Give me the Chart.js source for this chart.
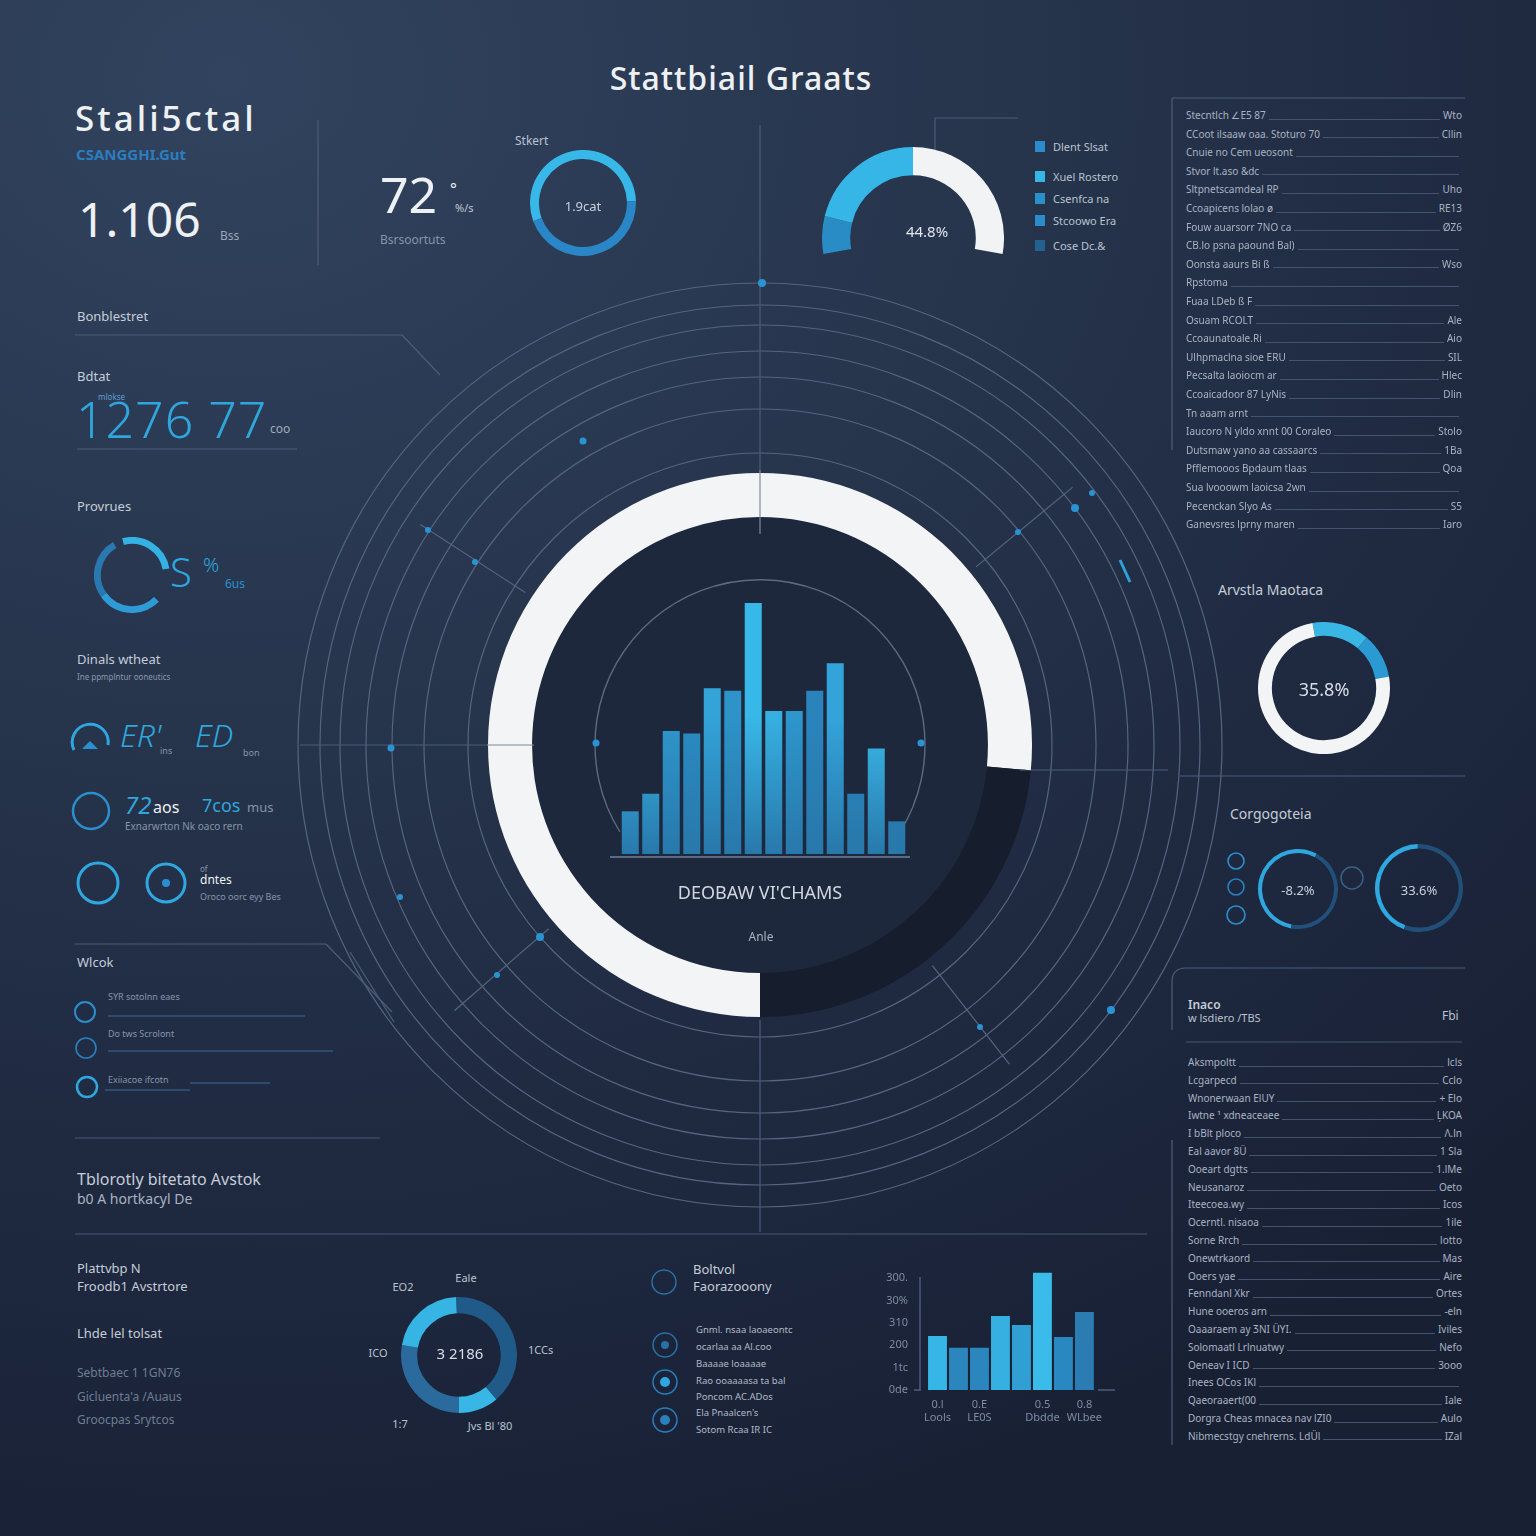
<!DOCTYPE html>
<html><head><meta charset="utf-8">
<script src="https://cdn.jsdelivr.net/npm/chart.js@4.4.1/dist/chart.umd.min.js"></script>
<style>
html,body{margin:0;padding:0;}
body{width:1536px;height:1536px;position:relative;overflow:hidden;font-family:"Noto Sans","Open Sans",sans-serif;
background:radial-gradient(ellipse 120% 100% at 15% 5%, #32435f 0%, #28374f 35%, #1f2a41 70%, #182034 100%);}
.t{position:absolute;white-space:nowrap;line-height:1;}
canvas{position:absolute;}
svg.layer{position:absolute;left:0;top:0;}
.row{position:absolute;display:flex;align-items:center;font-size:10px;color:#a9b3c3;white-space:nowrap;line-height:1;}
.row .ld{flex:1;height:0;border-bottom:1px solid #44546f;margin:0 3px;transform:translateY(4px);}
</style></head>
<body>
<script>
// ---------------- DATA ----------------
const mainRingLabels = ['Complete', 'Remaining'];
const mainRingValues = [76.5, 23.5];

const barCategories = ['B1','B2','B3','B4','B5','B6','B7','B8','B9','B10','B11','B12','B13','B14'];
const barValues = [17, 24, 49, 48, 66, 65, 100, 57, 57, 65, 76, 24, 42, 13];

const gaugeLabels = ['Low', 'Mid', 'Rest'];
const gaugeValues = [12, 38, 50];

const topRingValues = [55, 45];
const analysisRingValues = [14, 11, 75];
const compareLeftValues = [55, 45];
const compareRightValues = [44, 56];
const progressRingValues = [95, 55, 100, 95, 15];
const bottomRingValues = [143, 40, 100, 77];

const bottomBarLabels = [['0.l', 'Lools'], '', ['0.E', 'LE0S'], '', '', ['0.5', 'Dbdde'], '', ['0.8', 'WLbee']];
const bottomBarValues = [145, 113, 113, 198, 174, 314, 142, 209];
const bottomTickLabels = ['0de', '1tc', '200', '310', '30%', '300.'];

const topListLabels = ['Stecntlch \u2220E5 87','CCoot ilsaaw oaa. Stoturo 70','Cnuie no Cem ueosont','Stvor lt.aso &dc','Sltpnetscamdeal RP','Ccoapicens lolao \u00f8','Fouw auarsorr 7NO ca','CB.lo psna paound Bal)','Oonsta aaurs Bi \u00df','Rpstoma','Fuaa LDeb \u00df F','Osuam RCOLT','Ccoaunatoale.Ri','Ulhpmaclna sioe ERU','Pecsalta laoiocm ar','Ccoaicadoor 87 LyNis','Tn aaam arnt','Iaucoro N yldo xnnt 00 Coraleo','Dutsmaw yano aa cassaarcs','Pfflemooos Bpdaum tlaas','Sua lvooowm laoicsa 2wn','Pecenckan Slyo As','Ganevsres lprny maren'];
const topListValues = ['Wto','Cllin','','','Uho','RE13','\u00d8Z6','','Wso','','','Ale','Aio','SIL','Hlec','Dlin','','Stolo','1Ba','Qoa','','S5','Iaro'];
const botListLabels = ['Aksmpoltt','Lcgarpecd','Wnonerwaan ElUY','Iwtne \u00b9 xdneaceaee','I bBlt ploco','Eal aavor 8\u00dc','Ooeart dgtts','Neusanaroz','Iteecoea.wy','Ocerntl. nisaoa','Sorne Rrch','Onewtrkaord','Ooers yae','Fenndanl Xkr','Hune ooeros arn','Oaaaraem ay \u01b7NI \u00dcYI.','Solomaatl Lrlnuatwy','Oeneav I ICD','Inees OCos IKl','Qaeoraaert(00','Dorgra Cheas mnacea nav lZI0','Nibmecstgy cnehrerns. Ld\u00dcl'];
const botListValues = ['lcls','Cclo','+ Elo','\u013bKOA','\u039b.ln','1 Sla','1.lMe','Oeto','Icos','1ile','lotto','Mas','Aire','Ortes','-eln','Iviles','Nefo','3ooo','','Iale','Aulo','IZal'];

// ---------------- BACKGROUND DECOR ----------------
let s = '';
const L = (x1,y1,x2,y2,c='#4d5d79',w=1.2)=>{ s += `<line x1="${x1}" y1="${y1}" x2="${x2}" y2="${y2}" stroke="${c}" stroke-width="${w}"/>`; };
const C = (cx,cy,r,st,w,fill='none')=>{ s += `<circle cx="${cx}" cy="${cy}" r="${r}" stroke="${st}" stroke-width="${w}" fill="${fill}"/>`; };
const CX = 760, CY = 745;
[292, 336, 368, 394, 420, 440, 462].forEach((r,i)=>C(CX,CY,r,'#55657f',1.2));
C(CX,CY,228,'none',0,'#1d283c');
s += `<path d="M620,832 A165,165 0 1 1 900,832" stroke="#5b6b84" stroke-width="1.4" fill="none"/>`;
[[-147],[139],[-39.5],[52]].forEach(([a])=>{const r=a*Math.PI/180; L(CX+280*Math.cos(r),CY+280*Math.sin(r),CX+405*Math.cos(r),CY+405*Math.sin(r),'#55657f',1.2);});
L(760,125,760,470); L(760,1020,760,1232);
L(300,745,490,745); L(1024,770,1168,770);
L(318,120,318,265);
L(75,335,402,335); L(402,335,440,375);
L(77,449,297,449,'#4f5f7b',1);
L(75,944,326,944); L(326,944,392,1012); L(350,952,394,1022);
L(75,1138,380,1138,'#475772',1);
L(75,1234,1147,1234,'#475772',1);
L(935,118,1018,118); L(935,118,935,150);
L(1172,98,1465,98,'#4d5d79',1); L(1172,98,1172,450,'#4d5d79',1.2);
L(1180,776,1465,776,'#4d5d79',1);
s += `<path d="M1172,1030 L1172,982 Q1172,968 1186,968 L1465,968" stroke="#4d5d79" stroke-width="1.2" fill="none"/>`;
L(1186,1042,1462,1042,'#44546f',1);
L(1172,1140,1172,1445,'#4d5d79',1.2);
L(610,857,910,857,'#5b6b84',2);
L(920,1277,920,1391,'#4d5d79',1.5); L(914,1390,920,1390,'#4d5d79',1.5); L(1098,1390,1115,1390,'#4d5d79',1.5);
// dots
[[583,441,3.5],[428,530,3],[475,562,3],[391,748,3.5],[400,897,3],[540,937,4],[497,975,3],[1075,508,4],[1092,493,3],[1111,1010,4],[980,1027,3],[1018,532,3],[762,283,4],[596,743,3.5],[921,743,3.5]].forEach(d=>C(d[0],d[1],d[2],'none',0,'#2a93d4'));
L(1120,560,1130,582,'#2f9fdc',3);
// left icons
s += `<path d="M74,750 A18,18 0 1 1 108,745" stroke="#2fa6e0" stroke-width="3" fill="none"/>`;
s += `<path d="M82,749 L90,741 L98,749 Z" fill="#2a8fd0"/>`;
C(91,811,18,'#2a8fcc',2.5);
C(98,883,20,'#2fa8e0',3); C(166,883,19,'#2fa8e0',3);
C(166,883,4,'none',0,'#2a8fd0');
C(85,1012,10,'#2a8fcc',2); C(86,1048,10,'#2a7fbf',1.6); C(87,1087,10,'#2fa8e0',2.5);
L(108,1016,305,1016,'#3f6a94',1.2); L(108,1051,333,1051,'#3f6a94',1.2); L(190,1083,270,1083,'#3f6a94',1.2); L(105,1090,190,1090,'#3f6a94',1.2);
// right small icons
C(1236,861,8,'#2a8fcc',1.6); C(1236,887,8,'#2a7fbf',1.6); C(1236,915,9,'#2a8fcc',1.6);
C(1352,878,11,'#3b5f86',1.5);
// bottom icons
C(664,1282,12,'#2a6fa8',1.5); C(665,1345,12,'#2a6fa8',1.5); C(665,1382,12,'#2a7fbf',1.5); C(665,1420,12,'#2a7fbf',1.5);
C(665,1382,5,'none',0,'#2fa6e0'); C(665,1420,5,'none',0,'#2a7fbf'); C(665,1345,4,'none',0,'#2a6fa8');
// legend squares
[['#2a8ccc',147],['#35b6e6',177],['#2a90cc',199],['#2a8ccc',221],['#21628f',246]].forEach(([c,y])=>{ s += `<rect x="1035" y="${y-6}" width="10" height="11" fill="${c}"/>`; });

const bg = document.createElementNS('http://www.w3.org/2000/svg','svg');
bg.setAttribute('class','layer'); bg.setAttribute('width','1536'); bg.setAttribute('height','1536');
bg.innerHTML = s; document.body.appendChild(bg);

// ---------------- HELPERS ----------------
function mkCanvas(x,y,w,h){const c=document.createElement('canvas');c.width=w;c.height=h;c.style.left=x+'px';c.style.top=y+'px';c.style.width=w+'px';c.style.height=h+'px';document.body.appendChild(c);return c;}
const base = {responsive:false, animation:false, devicePixelRatio:1, events:[], plugins:{legend:{display:false}, tooltip:{enabled:false}}};
function donut(cx,cy,r,cut,data,colors,rotation,circ,hOverride){
  const h = hOverride || 2*r;
  const c = mkCanvas(cx-r, cy-r, 2*r, h);
  return new Chart(c,{type:'doughnut',data:{labels:data.map((_,i)=>'s'+i),datasets:[{data:data,backgroundColor:colors,borderWidth:0,hoverOffset:0}]},
    options:Object.assign({},base,{cutout:cut+'%',rotation:rotation||0,circumference:circ||360,layout:{padding:0}})});
}
function T(x,y,txt,size,color,extra){const d=document.createElement('div');d.className='t';d.textContent=txt;d.style.left=x+'px';d.style.top=(y-size*0.55)+'px';d.style.fontSize=size+'px';d.style.color=color;if(extra)Object.assign(d.style,extra);document.body.appendChild(d);return d;}
const TC=(x,y,txt,size,color,extra)=>T(x,y,txt,size,color,Object.assign({transform:'translateX(-50%)'},extra||{}));

// ---------------- CHARTS ----------------
// big ring
new Chart(mkCanvas(488,473,544,544),{type:'doughnut',data:{labels:mainRingLabels,datasets:[{data:mainRingValues,backgroundColor:['#f2f4f5','#161d2d'],borderWidth:0}]},
  options:Object.assign({},base,{cutout:'83.8%',rotation:180,layout:{padding:0}})});

// central bars
const barColors = ['#3bbbe8','#38b6e6','#2f97cc','#2b8bc2','#33a3d8','#2d93c8','#38b8e8','#36b0e2','#2d96cc','#2a84bb','#33a4da','#2a88bf','#3abbea','#2a7cb0'];
new Chart(mkCanvas(620,603,287,251),{type:'bar',data:{labels:barCategories,datasets:[{data:barValues,
  backgroundColor:(ctx)=>{const ch=ctx.chart,a=ch.chartArea;if(!a)return barColors[ctx.dataIndex];const g=ch.ctx.createLinearGradient(0,a.top,0,a.bottom);const c=barColors[ctx.dataIndex];g.addColorStop(0,c);g.addColorStop(0.45,c);g.addColorStop(1,'#2878ab');return g;},
  borderWidth:0,categoryPercentage:1,barPercentage:0.83}]},
  options:Object.assign({},base,{layout:{padding:0},scales:{x:{display:false},y:{display:false,min:0,max:100}}})});

// top small ring
donut(583,203,53,83,topRingValues,['#38b8e8','#2a86c6'],250);
// gauge
donut(913,238,91,69,gaugeValues,['#2a8cc4','#36b6e6','#f1f3f4'],-100,200,107);
// analysis ring
donut(1324,688,66,79,analysisRingValues,['#3ab6e4','#2a9ad2','#f2f4f5'],-10);
// compare rings
donut(1298,889,40,90,compareLeftValues,['#2fa6de','#21507a'],190);
donut(1419,888,44,90,compareRightValues,['#2fa8e0','#224f78'],200);
// progress ring
donut(132,575,38,82,progressRingValues,['#35b2e4','rgba(0,0,0,0)','#2e9ad6','#2a78b0','rgba(0,0,0,0)'],-15);
// bottom ring
donut(459,1355,58,72,bottomRingValues,['#205a88','#38b6e6','#2a6a9c','#36b4e4'],-3);

// bottom bars
const bbColors = ['#36b6e6','#2a86bd','#2a86bd','#36b0e0','#30a0d4','#3abbea','#2a88c0','#2a7cb2'];
new Chart(mkCanvas(875,1245,235,190),{type:'bar',data:{labels:bottomBarLabels,datasets:[{data:bottomBarValues,backgroundColor:bbColors,borderWidth:0,categoryPercentage:1,barPercentage:0.9}]},
  options:Object.assign({},base,{layout:{padding:{top:4,right:0,left:0,bottom:0}},scales:{
    x:{grid:{display:false,drawTicks:false},border:{display:false},ticks:{color:'#7d8ca4',font:{size:11,family:'Noto Sans'},padding:8,autoSkip:false,maxRotation:0},afterFit:(sc)=>{sc.height=45;}},
    y:{min:0,max:320,grid:{display:false,drawTicks:false},border:{display:false},ticks:{stepSize:60,includeBounds:false,color:'#7d8ca4',font:{size:11,family:'Noto Sans'},padding:19,callback:(v)=>{const i=v/60;return Number.isInteger(i)&&bottomTickLabels[i]!==undefined?bottomTickLabels[i]:'';}},afterFit:(sc)=>{sc.width=52;}}}})});

// ---------------- TEXT ----------------
const W='#eef1f4', G='#b9c3d0', G2='#8794a8', B='#2fa6de';
TC(741,80,'Stattbiail Graats',32,W,{fontWeight:500,letterSpacing:'1px'});
T(75,119,'Stali5ctal',35,W,{fontWeight:500,letterSpacing:'3px'});
T(76,155,'CSANGGHI.Gut',15,'#2b7dbf',{fontWeight:700});
T(78,221,'1.106',48,W);
T(220,237,'Bss',12,'#9aa6b8');
T(380,196,'72',50,W);
T(450,190,'\u00b0',16,W); T(455,208,'%/s',11,'#c0c8d4');
T(380,241,'Bsrsoortuts',12,G2);
T(515,142,'Stkert',12,G);
TC(583,207,'1.9cat',13,'#c8d0dc');
TC(927,232,'44.8%',15,'#e0e6ee');
[['Dlent Slsat',147],['Xuel Rostero',177],['Csenfca na',199],['Stcoowo Era',221],['Cose Dc.&',246]].forEach(([t,y])=>T(1053,y,t,11,G));

T(77,317,'Bonblestret',13,'#c5cdd8');
T(77,377,'Bdtat',13,'#c5cdd8');
T(98,397,'mlokse',8,'#5d9ed0');
T(76,421,'1276 77',50,B,{fontWeight:300,letterSpacing:'1px'});
T(270,430,'coo',12,'#a0abbb');
T(77,507,'Provrues',13,'#c5cdd8');
T(170,574,'S',40,B,{fontWeight:300});
T(203,566,'%',20,B,{fontWeight:300});
T(225,585,'6us',12,'#2a8fcc');
T(77,660,'Dinals wtheat',13,'#c5cdd8');
T(77,677,'Ine ppmplntur ooneutics',8,'#8c98ab');
T(120,737,"ER'",32,B,{fontStyle:'italic',fontWeight:300});
T(160,751,'ins',9,G2);
T(195,737,'ED',32,B,{fontStyle:'italic',fontWeight:300});
T(243,753,'bon',9,G2);
T(125,806,'72',24,B,{fontStyle:'italic'});
T(153,808,'aos',16,W);
T(202,806,'7cos',18,B);
T(247,808,'mus',13,G2);
T(125,826,'Exnarwrton Nk   oaco rern',10,G2);
T(200,869,'of',8,G2);
T(200,881,'dntes',12,W);
T(200,897,'Oroco oorc eyy Bes',9,G2);
T(77,963,'Wlcok',13,'#c5cdd8');
T(108,997,'SYR sotolnn eaes',9,G2);
T(108,1034,'Do tws Scrolont',9,G2);
T(108,1080,'Exiiacoe ifcotn',9,G2);
T(77,1180,'Tblorotly bitetato Avstok',16,'#c5cdd8');
T(77,1200,'b0 A hortkacyl De',14,'#a8b3c2');
T(77,1269,'Plattvbp N',13,'#c5cdd8');
T(77,1287,'Froodb1 Avstrtore',13,'#c5cdd8');
T(77,1334,'Lhde lel tolsat',13,'#c5cdd8');
T(77,1374,'Sebtbaec 1 1GN76',12,'#6f7d93');
T(77,1398,'Gicluenta\'a /Auaus',12,'#6f7d93');
T(77,1421,'Groocpas Srytcos',12,'#6f7d93');

TC(403,1287,'EO2',11,G); TC(466,1278,'Eale',11,G); T(528,1350,'1CCs',11,G); TC(378,1353,'ICO',11,G);
TC(400,1424,'1:7',11,G); TC(490,1426,"Jvs Bl '80",11,G);
TC(460,1354,'3 2186',15,'#d8dee6');
T(693,1270,'Boltvol',13,'#c5cdd8'); T(693,1287,'Faorazooony',13,'#c5cdd8');
[['Gnml. nsaa laoaeontc',1330],['ocarlaa aa Al.coo',1347],['Baaaae loaaaae',1364],['Rao ooaaaasa ta bal',1381],['Poncom AC.ADos',1397],['Ela Pnaalcen\'s',1413],['Sotom Rcaa IR IC',1430]].forEach(([t,y])=>T(696,y,t,9.5,'#b0bac8'));

T(1218,591,'Arvstla Maotaca',14,'#c5cdd8');
TC(1324,690,'35.8%',18,'#d8dee6');
T(1230,815,'Corgogoteia',14,'#c5cdd8');
TC(1298,891,'-8.2%',13,'#c8d0dc');
TC(1419,891,'33.6%',13,'#c8d0dc');
T(1188,1006,'Inaco',12,'#c5cdd8',{fontWeight:600});
T(1188,1018,'w lsdiero /TBS',11,G);
T(1442,1017,'Fbi',12,G);

function rows(x,y0,step,w,labels,values){labels.forEach((lb,i)=>{const d=document.createElement('div');d.className='row';d.style.left=x+'px';d.style.top=(y0+i*step-6)+'px';d.style.width=w+'px';
  const a=document.createElement('span');a.textContent=lb;const l=document.createElement('span');l.className='ld';const v=document.createElement('span');v.textContent=values[i];
  d.appendChild(a);d.appendChild(l);d.appendChild(v);document.body.appendChild(d);});}
rows(1186,116,18.6,276,topListLabels,topListValues);
rows(1188,1063,17.8,274,botListLabels,botListValues);

// ---------------- OVERLAY ----------------
const ov = document.createElementNS('http://www.w3.org/2000/svg','svg');
ov.setAttribute('class','layer'); ov.setAttribute('width','1536'); ov.setAttribute('height','1536');
ov.innerHTML = `<line x1="760" y1="470" x2="760" y2="534" stroke="#7d8aa0" stroke-width="1.2"/><line x1="487" y1="745" x2="534" y2="745" stroke="#7d8aa0" stroke-width="1.2"/><line x1="1020" y1="770" x2="1026" y2="770" stroke="#4d5d79" stroke-width="1.2"/>`;
document.body.appendChild(ov);

TC(760,893,'DEOBAW VI\'CHAMS',18,'#d0d7e0');
TC(761,938,'Anle',12,'#a8b3c2');
</script>
</body></html>
